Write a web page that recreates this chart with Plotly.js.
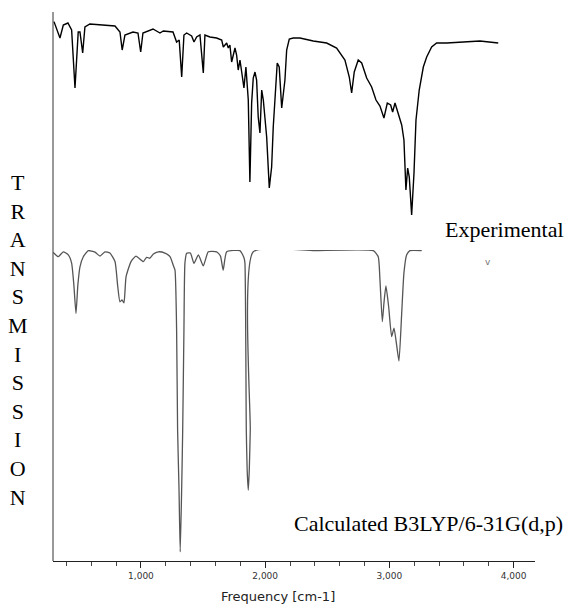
<!DOCTYPE html>
<html>
<head>
<meta charset="utf-8">
<script src="https://cdn.plot.ly/plotly-3.0.1.min.js"></script>
<style>html,body{margin:0;padding:0;background:#fff;}#chart{width:567px;height:604px;}</style>
</head>
<body>
<div id="chart"></div>
<script>
// Experimental spectrum: frequency (cm-1) and transmission (%)
const expFreq = [300,321,348,375,412,442,469,495,509,531,549,589,791,831,849,871,936,976,998,1016,1056,1097,1153,1180,1258,1287,1308,1328,1346,1368,1408,1427,1448,1475,1502,1515,1555,1609,1650,1663,1690,1703,1716,1730,1757,1770,1783,1797,1811,1829,1845,1864,1877,1891,1904,1918,1931,1944,1958,1972,1985,2012,2033,2052,2065,2079,2097,2113,2133,2159,2173,2194,2226,2280,2387,2495,2575,2642,2677,2696,2717,2749,2777,2817,2857,2892,2924,2956,2983,3010,3026,3045,3071,3099,3117,3133,3147,3160,3179,3198,3214,3240,3273,3300,3340,3380,3461,3622,3729,3876];
const expTrans = [99.2,96,91,97.5,98.5,95,66,94,94,83.5,96.5,98,97,94,85,92.5,94,93.5,84,93.5,94.5,95.5,93.5,94.5,94,89,90,71.5,92.5,93.5,92,89,91.5,92.5,73.5,92.5,91.5,91,90,86.5,88.5,86,87.5,79,86,82.5,75,80,74,66,76.5,60,19,58.5,71,74,70,51.5,43.5,65,60,41.5,16,26.5,46.5,63.5,78.5,76.5,56,70,85,90.5,91,91,89.5,88.5,86,80,71.5,63.5,74,80,78.5,71,66.5,60,57,51,58.5,57.5,54,58.5,53.5,47.5,40,15,26,21.5,2.5,23.5,50,65,76.5,81.5,86.5,88.5,88.5,89,89.5,88.5];

// Calculated B3LYP/6-31G(d,p) spectrum
const calcFreq = [294,334,375,415,442,460,477,492,509,536,576,630,670,710,750,791,812,831,847,863,880,920,960,1019,1045,1072,1100,1140,1193,1234,1260,1274,1287,1295,1306,1316,1328,1336,1346,1354,1368,1398,1427,1462,1502,1542,1609,1640,1662,1690,1797,1830,1837,1848,1855,1864,1872,1880,1904,2400,2870,2910,2924,2943,2956,2972,2994,3018,3037,3058,3077,3099,3117,3139,3165,3260];
const calcTrans = [99.2,97.8,99.4,98.4,95.7,88.5,79.2,88.5,94.5,97.8,99.8,99.3,98,99.4,99,96.2,88.5,83,83.6,82.7,91.2,96.2,98,96.2,97.6,97.3,98.7,99.4,99,97.8,95,93.4,73.8,41,22.3,1,22.3,41,73.8,95.7,98.9,99,95.6,98.4,94.8,99.4,99.4,98,93.4,99.4,99.8,97.4,95.7,41,27.9,21.3,27.9,41,99.4,99.8,99.8,97.8,90.2,76.5,82.6,88.2,81.4,71.6,74.4,68.9,63.6,79.3,92.5,98.4,99.8,99.8];

const xTicks = [1000,2000,3000,4000];
const xTickText = ['1,000','2,000','3,000','4,000'];
const yLetters = ['T','R','A','N','S','M','I','S','S','I','O','N'];

const traces = [
  {x: expFreq, y: expTrans, type: 'scatter', mode: 'lines', xaxis: 'x', yaxis: 'y2',
   line: {color: '#000', width: 1.4}, hoverinfo: 'skip', showlegend: false},
  {x: calcFreq, y: calcTrans, type: 'scatter', mode: 'lines', xaxis: 'x', yaxis: 'y',
   line: {color: '#555', width: 1.3, shape: 'spline', smoothing: 0.5}, hoverinfo: 'skip', showlegend: false}
];

const layout = {
  width: 567, height: 604,
  margin: {l: 53, r: 32, t: 12, b: 43},
  paper_bgcolor: '#fff', plot_bgcolor: '#fff',
  showlegend: false,
  xaxis: {
    range: [292, 4172], anchor: 'free', position: 0,
    showline: true, linecolor: '#222', linewidth: 1,
    showgrid: false, zeroline: false,
    tickmode: 'array', tickvals: xTicks, ticktext: xTickText,
    ticks: 'outside', ticklen: 6, tickcolor: '#222', tickwidth: 1,
    minor: {dtick: 200, tick0: 0, ticks: 'outside', ticklen: 4, tickcolor: '#444', showgrid: false},
    tickfont: {family: 'DejaVu Sans', size: 9, color: '#333'}
  },
  yaxis: {domain: [0.0109, 0.5665], range: [0, 100], visible: false, fixedrange: true},
  yaxis2: {domain: [0.6211, 0.9854], range: [0, 100], visible: false, fixedrange: true, anchor: 'x'},
  shapes: [
    {type: 'line', xref: 'paper', yref: 'paper', x0: 0, x1: 0, y0: 0, y1: 1,
     line: {color: '#333', width: 1}}
  ],
  annotations: [
    {text: 'Frequency [cm-1]', xref: 'paper', yref: 'paper', x: (277.5-53)/482, y: -0.0638,
     xanchor: 'center', yanchor: 'middle', showarrow: false,
     font: {family: 'DejaVu Sans', size: 13, color: '#222'}},
    {text: 'Experimental', xref: 'paper', yref: 'paper', x: (443-53)/482, y: (561-229)/549,
     xanchor: 'left', yanchor: 'middle', showarrow: false,
     font: {family: 'Liberation Serif', size: 22, color: '#000'}},
    {text: 'v', xref: 'paper', yref: 'paper', x: (488-53)/482, y: (561-262)/549,
     xanchor: 'center', yanchor: 'middle', showarrow: false,
     font: {family: 'DejaVu Sans', size: 9, color: '#777'}},
    {text: 'Calculated B3LYP/6-31G(d,p)', xref: 'paper', yref: 'paper', x: (565-53)/482, y: (561-523)/549,
     xanchor: 'right', yanchor: 'middle', showarrow: false,
     font: {family: 'Liberation Serif', size: 22, color: '#000'}},
    {text: yLetters.join('<br>'), xref: 'paper', yref: 'paper', x: (18-53)/482, y: (561-340)/549,
     xanchor: 'center', yanchor: 'middle', align: 'center', showarrow: false,
     font: {family: 'Liberation Serif', size: 22, color: '#000'}}
  ]
};

Plotly.newPlot('chart', traces, layout, {staticPlot: true, displayModeBar: false});
</script>
</body>
</html>
